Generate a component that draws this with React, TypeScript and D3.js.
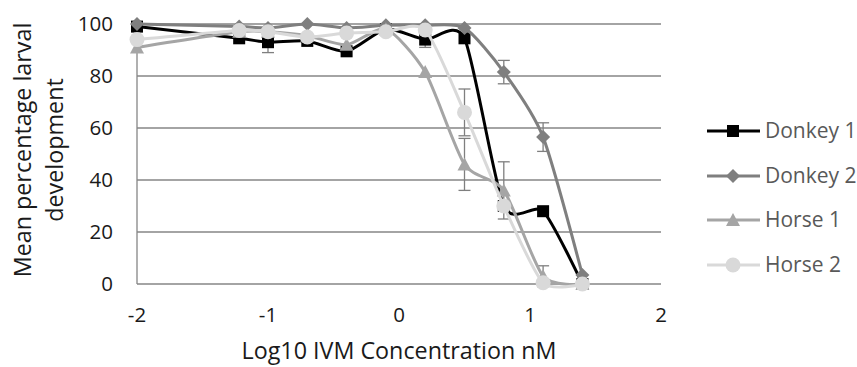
import React from "react";
import * as d3 from "d3";

const xValues = [-2, -1.22, -1, -0.7, -0.4, -0.1, 0.2, 0.5, 0.8, 1.1, 1.4];
const donkey1 = [99, 94.5, 93, 93.5, 89.5, 98, 94, 94.5, 30, 28, 0];
const donkey1Err = [0, 0, 4, 0, 0, 0, 3, 0, 0, 0, 0];
const donkey2 = [100, 99, 98.5, 100, 98.5, 99.5, 99.5, 98.5, 81.5, 56.5, 3.5];
const donkey2Err = [0, 0, 0, 0, 0, 0, 0, 0, 4.5, 5.5, 0];
const horse1 = [91, 97, 97, 95.5, 92, 98, 81.5, 46, 36, 3, 0];
const horse1Err = [0, 0, 0, 0, 0, 0, 0, 10, 11, 4, 0];
const horse2 = [94, 97.5, 97, 95, 96.5, 97, 97.7, 66, 30, 0.5, 0];
const horse2Err = [0, 0, 0, 0, 0, 0, 0, 9, 0, 0, 0];
const seriesNames = ["Donkey 1", "Donkey 2", "Horse 1", "Horse 2"];
const seriesColors = ["#000000", "#7f7f7f", "#a5a5a5", "#d9d9d9"];
const seriesMarkers = ["square", "diamond", "triangle", "circle"];
const xTicks = [-2, -1, 0, 1, 2];
const yTicks = [0, 20, 40, 60, 80, 100];

const FONT = "'Open Sans', sans-serif";

function Marker({ type, x, y, color }: { type: string; x: number; y: number; color: string }) {
  if (type === "square") return <rect x={x - 6} y={y - 6} width={12} height={12} fill={color} />;
  if (type === "diamond")
    return <path d={`M${x},${y - 7}L${x + 7},${y}L${x},${y + 7}L${x - 7},${y}Z`} fill={color} />;
  if (type === "triangle")
    return <path d={`M${x},${y - 7}L${x + 7},${y + 6}L${x - 7},${y + 6}Z`} fill={color} />;
  return <circle cx={x} cy={y} r={7.5} fill={color} />;
}

export default function App() {
  const W = 857, H = 367;
  const x = d3.scaleLinear().domain([-2, 2]).range([137, 661]);
  const y = d3.scaleLinear().domain([0, 100]).range([284, 24]);
  const data = [donkey1, donkey2, horse1, horse2];
  const errs = [donkey1Err, donkey2Err, horse1Err, horse2Err];
  const line = d3
    .line<[number, number]>()
    .x((d) => x(d[0]))
    .y((d) => y(d[1]))
    .curve(d3.curveCardinal.tension(0.3));
  const legendY = [131, 176, 220, 265];

  return (
    <svg width={W} height={H} style={{ position: "absolute", left: 0, top: 0 }}>
      <rect width={W} height={H} fill="#fff" />
      {yTicks.map((t) => (
        <line key={t} x1={x(-2)} x2={x(2)} y1={y(t)} y2={y(t)} stroke="#868686" strokeWidth={1.3} />
      ))}
      <line x1={x(-2)} x2={x(-2)} y1={y(0)} y2={y(100)} stroke="#868686" strokeWidth={1.3} />
      {yTicks.map((t) => (
        <text key={t} x={113} y={y(t)} dy="0.35em" textAnchor="end" fontFamily={FONT} fontSize={20.5} fill="#1a1a1a">
          {t}
        </text>
      ))}
      {xTicks.map((t) => (
        <text key={t} x={x(t)} y={322} textAnchor="middle" fontFamily={FONT} fontSize={20.5} fill="#1a1a1a">
          {t}
        </text>
      ))}
      <text x={399} y={359} textAnchor="middle" fontFamily={FONT} fontSize={23.3} fill="#1a1a1a">
        Log10 IVM Concentration nM
      </text>
      <g transform="translate(0,150) rotate(-90)">
        <text x={0} y={31} textAnchor="middle" fontFamily={FONT} fontSize={23.3} fill="#1a1a1a">
          Mean percentage larval
        </text>
        <text x={0} y={63} textAnchor="middle" fontFamily={FONT} fontSize={23.3} fill="#1a1a1a">
          development
        </text>
      </g>
      {data.map((vals, si) => {
        const pts: [number, number][] = xValues.map((xv, i) => [xv, vals[i]]);
        return (
          <g key={si}>
            {errs[si].map((e, i) =>
              e > 0 ? (
                <g key={i} stroke="#7f7f7f" strokeWidth={1.3}>
                  <line x1={x(xValues[i])} x2={x(xValues[i])} y1={y(vals[i] - e)} y2={y(vals[i] + e)} />
                  <line x1={x(xValues[i]) - 6} x2={x(xValues[i]) + 6} y1={y(vals[i] - e)} y2={y(vals[i] - e)} />
                  <line x1={x(xValues[i]) - 6} x2={x(xValues[i]) + 6} y1={y(vals[i] + e)} y2={y(vals[i] + e)} />
                </g>
              ) : null
            )}
            <path d={line(pts) || ""} fill="none" stroke={seriesColors[si]} strokeWidth={3} strokeLinejoin="round" />
            {pts.map((p, i) => (
              <Marker key={i} type={seriesMarkers[si]} x={x(p[0])} y={y(p[1])} color={seriesColors[si]} />
            ))}
          </g>
        );
      })}
      {seriesNames.map((n, si) => (
        <g key={n}>
          <line x1={707} x2={760} y1={legendY[si]} y2={legendY[si]} stroke={seriesColors[si]} strokeWidth={3} />
          <Marker type={seriesMarkers[si]} x={733} y={legendY[si]} color={seriesColors[si]} />
          <text x={765} y={legendY[si]} dy="0.35em" fontFamily={FONT} fontSize={21} fill="#595959">
            {n}
          </text>
        </g>
      ))}
    </svg>
  );
}
